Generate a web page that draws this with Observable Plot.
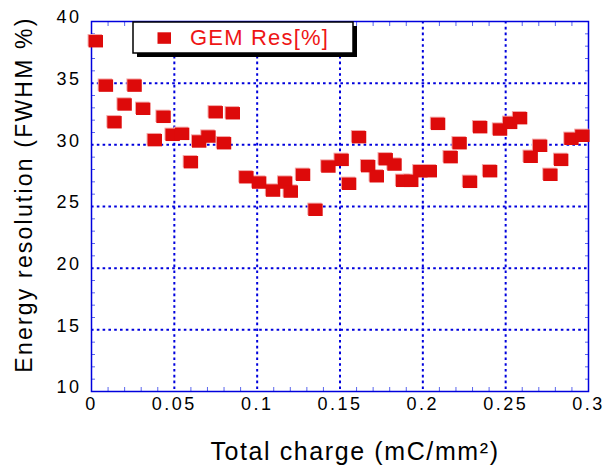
<!DOCTYPE html>
<html><head><meta charset="utf-8">
<script src="https://cdn.jsdelivr.net/npm/d3@7"></script>
<script src="https://cdn.jsdelivr.net/npm/@observablehq/plot@0.6"></script>
<style>body{margin:0;background:#fff}</style>
</head><body><div id="chart"></div>
<script>
// ---- data ----
const charge = [0.0026, 0.0087, 0.0139, 0.020, 0.026, 0.0312, 0.0382, 0.0435, 0.049, 0.0547,
  0.060, 0.065, 0.0706, 0.075, 0.080, 0.0853, 0.0935, 0.1012, 0.1096, 0.1169,
  0.1203, 0.1277, 0.1352, 0.143, 0.151, 0.1555, 0.1615, 0.167, 0.1722, 0.1776,
  0.1829, 0.1881, 0.193, 0.1985, 0.2042, 0.2092, 0.2168, 0.2222, 0.2285, 0.2346,
  0.2406, 0.2466, 0.2527, 0.2587, 0.2651, 0.2708, 0.277, 0.2835, 0.2897, 0.2963];
const resolution = [38.4, 34.8, 31.83, 33.27, 34.8, 32.92, 30.38, 32.27, 30.81, 30.89,
  28.59, 30.27, 30.67, 32.64, 30.13, 32.56, 27.37, 26.94, 26.29, 26.94,
  26.21, 27.57, 24.73, 28.24, 28.78, 26.84, 30.62, 28.27, 27.45, 28.83,
  28.4, 27.08, 27.08, 27.86, 27.86, 31.70, 29.0, 30.13, 27.0, 31.43,
  27.86, 31.24, 31.78, 32.16, 29.03, 29.92, 27.57, 28.78, 30.49, 30.73];
const seriesName = "GEM Res[%]";
const xTicks = [0, 0.05, 0.1, 0.15, 0.2, 0.25, 0.3];
const xTickLabels = ["0", "0.05", "0.1", "0.15", "0.2", "0.25", "0.3"];
const yTicks = [10, 15, 20, 25, 30, 35, 40];
const yTickLabels = ["10", "15", "20", "25", "30", "35", "40"];
const xMinorTicks = [0.01,0.02,0.03,0.04,0.06,0.07,0.08,0.09,0.11,0.12,0.13,0.14,0.16,0.17,0.18,0.19,0.21,0.22,0.23,0.24,0.26,0.27,0.28,0.29];
const yMinorTicks = [11,12,13,14,16,17,18,19,21,22,23,24,26,27,28,29,31,32,33,34,36,37,38,39];
const xTitle = "Total charge (mC/mm²)";
const yTitle = "Energy resolution (FWHM %)";

// ---- chart ----
const blue = "#0000dd";
const minorBlue = "#5a66ee";
const red = "#dd0a0a";
const data = charge.map((x, i) => ({x, y: resolution[i]}));
const rectSymbol = {draw(ctx) { ctx.rect(-7.2, -6.2, 14.4, 12.4); }};
const dotted = {stroke: blue, strokeOpacity: 1, strokeWidth: 2, strokeDasharray: "2.6,3.2"};
const minor = {tickSize: -4, text: null, label: null, stroke: minorBlue, strokeWidth: 1};

const plot = Plot.plot({
  width: 608, height: 465,
  marginLeft: 91, marginRight: 20, marginTop: 21, marginBottom: 74,
  style: {fontFamily: "'Liberation Sans', Arial, Helvetica, sans-serif", background: "white", overflow: "visible"},
  x: {domain: [0, 0.3]},
  y: {domain: [10, 40]},
  marks: [
    Plot.gridX(xTicks.slice(1, -1), dotted),
    Plot.gridY(yTicks.slice(1, -1), dotted),
    Plot.axisX(xMinorTicks, {anchor: "bottom", ...minor}),
    Plot.axisX(xMinorTicks, {anchor: "top", ...minor}),
    Plot.axisY(yMinorTicks, {anchor: "left", ...minor}),
    Plot.axisY(yMinorTicks, {anchor: "right", ...minor}),
    Plot.axisX(xTicks, {anchor: "bottom", tickSize: 0, tickPadding: 6, fontSize: 18,
      tickFormat: d => xTickLabels[xTicks.indexOf(d)], label: null}),
    Plot.axisY(yTicks, {anchor: "left", tickSize: 0, tickPadding: 10, fontSize: 18, dy: -4,
      tickFormat: d => yTickLabels[yTicks.indexOf(d)], label: null}),
    Plot.frame({stroke: blue, strokeWidth: 1.5}),
    Plot.dot(data, {x: "x", y: "y", symbol: rectSymbol, fill: "#f3a6a6", dx: -1, dy: -1}),
    Plot.dot(data, {x: "x", y: "y", symbol: rectSymbol, fill: red}),
    Plot.text([xTitle], {frameAnchor: "bottom", textAnchor: "middle", lineAnchor: "bottom", text: d => d, fontSize: 25, dx: 15, dy: 68, fill: "black"}),
    Plot.text([yTitle], {frameAnchor: "left", textAnchor: "middle", text: d => d, fontSize: 23, rotate: -90, dx: -67, dy: -12, fill: "black"})
  ]
});

const svg = d3.select(plot);
svg.selectAll('g[aria-label="x-axis tick label"], g[aria-label="y-axis tick label"]').attr("letter-spacing", "2.5");
const titles = svg.selectAll('g[aria-label="text"]');
titles.filter((d, i) => i === 0).attr("letter-spacing", "1.6");
titles.filter((d, i) => i === 1).attr("letter-spacing", "2.2");

// legend
const lg = svg.append("g").attr("aria-label", "legend");
lg.append("rect").attr("x", 137).attr("y", 26).attr("width", 220).attr("height", 31).attr("fill", "black");
lg.append("rect").attr("x", 133).attr("y", 22).attr("width", 220).attr("height", 31)
  .attr("fill", "white").attr("stroke", "black").attr("stroke-width", 1.5);
lg.append("rect").attr("x", 157.5).attr("y", 32.3).attr("width", 13.5).attr("height", 11.5).attr("fill", red);
lg.append("text").attr("x", 190).attr("y", 44.5).attr("fill", "#ee1515").attr("text-anchor", "start")
  .attr("font-size", 22).attr("letter-spacing", "1.2").text(seriesName);

document.getElementById("chart").append(plot);
</script>
</body></html>
